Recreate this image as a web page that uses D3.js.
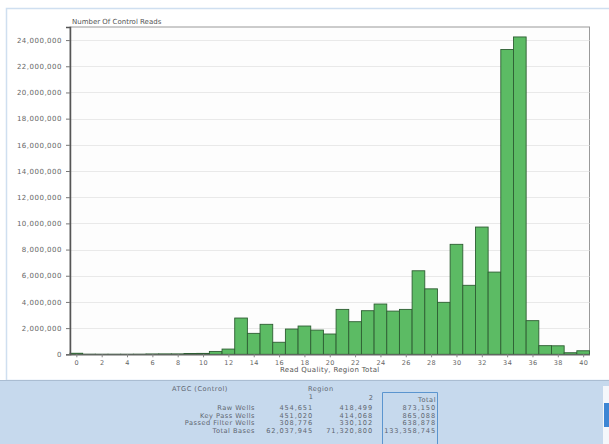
<!DOCTYPE html>
<html>
<head>
<meta charset="utf-8">
<script src="https://cdn.jsdelivr.net/npm/d3@7"></script>
<style>
  html, body { margin: 0; padding: 0; background: #ffffff; }
  svg { display: block; font-family: "DejaVu Sans", Verdana, sans-serif; }
</style>
</head>
<body>
<svg id="chart" width="609" height="444"></svg>
<script>
// Read quality histogram (control reads, region total)
const qualities = [0, 1, 2, 3, 4, 5, 6, 7, 8, 9, 10, 11, 12, 13, 14, 15, 16, 17, 18, 19, 20,
                   21, 22, 23, 24, 25, 26, 27, 28, 29, 30, 31, 32, 33, 34, 35, 36, 37, 38, 39, 40];
const reads = [80000, 8000, 5000, 5000, 5000, 8000, 25000, 30000, 30000, 60000, 70000,
               220000, 400000, 2770000, 1600000, 2290000, 920000, 1930000, 2160000, 1850000, 1550000,
               3430000, 2490000, 3330000, 3840000, 3300000, 3430000, 6380000, 5000000, 3970000, 8400000,
               5270000, 9720000, 6280000, 23280000, 24240000, 2570000, 660000, 650000, 120000, 270000];
const xTicks = [0, 2, 4, 6, 8, 10, 12, 14, 16, 18, 20, 22, 24, 26, 28, 30, 32, 34, 36, 38, 40];
const yTicks = [0, 2000000, 4000000, 6000000, 8000000, 10000000, 12000000,
                14000000, 16000000, 18000000, 20000000, 22000000, 24000000];

// Summary table under the chart
const tableTitle = "ATGC (Control)";
const rowLabels = ["Raw Wells", "Key Pass Wells", "Passed Filter Wells", "Total Bases"];
const region1 = ["454,651", "451,020", "308,776", "62,037,945"];
const region2 = ["418,499", "414,068", "330,102", "71,320,800"];
const totals = ["873,150", "865,088", "638,878", "133,358,745"];

const svg = d3.select("#chart");

// Page frame: white chart panel and blue summary strip
svg.append("rect").attr("x", 0).attr("y", 0).attr("width", 609).attr("height", 444).attr("fill", "#ffffff");
svg.append("rect").attr("x", 6.5).attr("y", 8.5).attr("width", 610).attr("height", 372)
   .attr("fill", "#ffffff").attr("stroke", "#cfdff0").attr("stroke-width", 1.5);
svg.append("rect").attr("x", 0).attr("y", 380).attr("width", 609).attr("height", 64).attr("fill", "#c6d9ed");
svg.append("line").attr("x1", 0).attr("x2", 609).attr("y1", 380.5).attr("y2", 380.5)
   .attr("stroke", "#aabdd2").attr("stroke-width", 1);
// side control on the right of the strip
svg.append("rect").attr("x", 603).attr("y", 386).attr("width", 6).attr("height", 58).attr("fill", "#f4f7fb");
svg.append("rect").attr("x", 604).attr("y", 403).attr("width", 5).attr("height", 24).attr("fill", "#3d86d4");

// Plot area
const plot = { left: 70, right: 589.5, top: 27, bottom: 354.3 };
const x = d3.scaleLinear().domain([-0.5, 40.5]).range([plot.left, plot.right]);
const y = d3.scaleLinear().domain([0, 25000000]).range([plot.bottom, plot.top]);

svg.append("rect")
   .attr("x", plot.left).attr("y", plot.top)
   .attr("width", plot.right - plot.left).attr("height", plot.bottom - plot.top)
   .attr("fill", "#fdfdfd").attr("stroke", "#9a9a9a").attr("stroke-width", 1);

// Horizontal grid
svg.append("g").selectAll("line").data(yTicks.slice(1)).join("line")
   .attr("x1", plot.left).attr("x2", plot.right)
   .attr("y1", d => Math.round(y(d)) + 0.5).attr("y2", d => Math.round(y(d)) + 0.5)
   .attr("stroke", "#e9e9e9").attr("stroke-width", 1);

// Title of the value axis
svg.append("text")
   .attr("x", 72).attr("y", 23.5)
   .attr("font-size", 7).attr("fill", "#555")
   .text("Number Of Control Reads");

// Bars
const barW = x(1) - x(0);
svg.append("g").selectAll("rect").data(qualities).join("rect")
   .attr("x", (d) => x(d) - barW / 2)
   .attr("y", (d, i) => y(reads[i]))
   .attr("width", barW)
   .attr("height", (d, i) => y(0) - y(reads[i]))
   .attr("fill", "#5cbb64")
   .attr("stroke", "#2e5e33")
   .attr("stroke-width", 0.9);

// Y axis
const yAxis = d3.axisLeft(y).tickValues(yTicks).tickSize(4).tickPadding(4)
   .tickFormat(d3.format(","));
const gy = svg.append("g").attr("transform", `translate(${plot.left},0)`).call(yAxis);
gy.select(".domain").attr("stroke", "#555").attr("stroke-width", 1.5);
gy.selectAll(".tick line").attr("stroke", "#777");
gy.selectAll(".tick text").attr("fill", "#666").attr("font-size", 7)
   .attr("letter-spacing", 0.5).attr("font-family", "DejaVu Sans, sans-serif");

// X axis
const xAxis = d3.axisBottom(x).tickValues(xTicks).tickSize(3).tickPadding(3).tickSizeOuter(0);
const gx = svg.append("g").attr("transform", `translate(0,${plot.bottom})`).call(xAxis);
gx.select(".domain").attr("stroke", "#666").attr("stroke-width", 1.2);
gx.selectAll(".tick line").attr("stroke", "#888");
gx.selectAll(".tick text").attr("fill", "#666").attr("font-size", 6.5)
   .attr("letter-spacing", 0.4).attr("font-family", "DejaVu Sans, sans-serif");

svg.append("text")
   .attr("x", (plot.left + plot.right) / 2).attr("y", 372)
   .attr("text-anchor", "middle").attr("font-size", 7).attr("fill", "#555")
   .attr("letter-spacing", 0.3)
   .text("Read Quality, Region Total");

// Summary table
const tbl = svg.append("g").attr("font-size", 6.6).attr("fill", "#5e6670");
tbl.append("text").attr("x", 172).attr("y", 391).attr("letter-spacing", 0.5).text(tableTitle);
tbl.append("text").attr("x", 308).attr("y", 391).attr("letter-spacing", 0.5).text("Region");
tbl.append("text").attr("x", 313).attr("y", 398.5).attr("text-anchor", "end").text("1");
tbl.append("text").attr("x", 373).attr("y", 400).attr("text-anchor", "end").text("2");
tbl.append("text").attr("x", 436).attr("y", 402).attr("text-anchor", "end")
   .attr("letter-spacing", 0.5).text("Total");

const rowY = [410, 417.7, 425.4, 433.1];
tbl.append("g").selectAll("text").data(rowLabels).join("text")
   .attr("x", 255).attr("y", (d, i) => rowY[i]).attr("text-anchor", "end")
   .attr("letter-spacing", 0.5).text(d => d);
[[region1, 313], [region2, 373], [totals, 436]].forEach(([col, xr]) => {
  tbl.append("g").selectAll("text").data(col).join("text")
     .attr("x", xr).attr("y", (d, i) => rowY[i]).attr("text-anchor", "end")
     .attr("letter-spacing", 0.9).text(d => d);
});
// frame around the totals column
svg.append("path")
   .attr("d", "M382.5,444 V392.5 H437.5 V444")
   .attr("fill", "none").attr("stroke", "#5b95cf").attr("stroke-width", 1);
</script>
</body>
</html>
